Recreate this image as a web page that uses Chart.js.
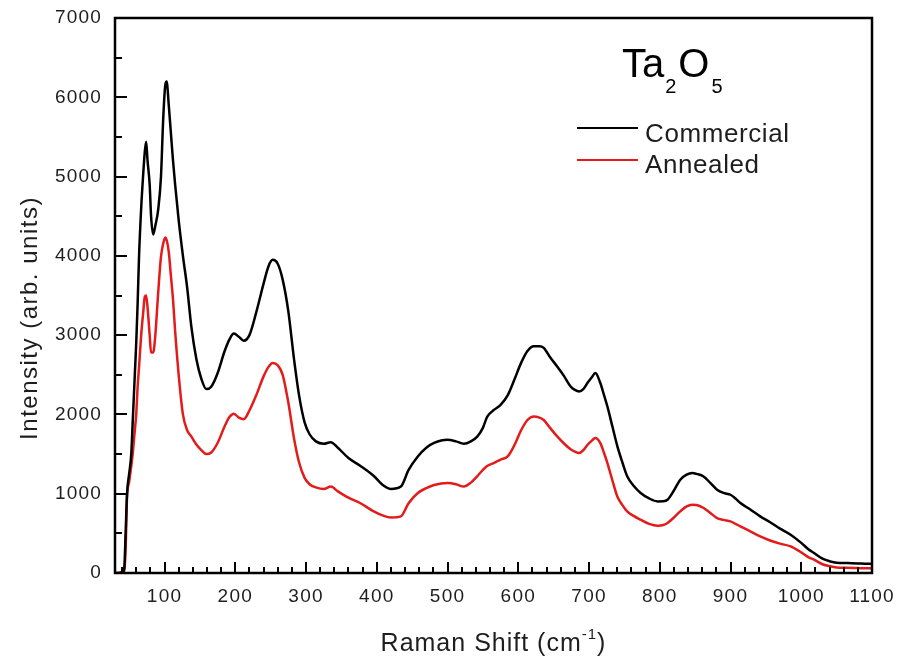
<!DOCTYPE html>
<html>
<head>
<meta charset="utf-8">
<script src="https://cdn.jsdelivr.net/npm/chart.js@4.4.1/dist/chart.umd.min.js"></script>
<style>
  html, body { margin: 0; padding: 0; background: #fff; }
  canvas { display: block; }
</style>
</head>
<body>
<canvas id="c" width="904" height="662"></canvas>
<script>
// ---- data ----
const ramanShift = [32, 36, 40, 43, 45, 47, 50, 53, 55, 58, 60, 62, 64, 67, 70, 72, 74, 76, 79, 81, 84, 87, 91, 95, 98, 101, 103, 106, 109, 112, 115, 120, 126, 132, 138, 145, 152, 159, 166, 175, 185, 192, 198, 205, 212, 220, 230, 240, 247, 253, 260, 267, 275, 283, 290, 298, 305, 314, 325, 335, 345, 360, 377, 395, 410, 420, 434, 445, 458, 470, 481, 500, 512, 523, 533, 542, 550, 556, 566, 575, 585, 595, 604, 613, 622, 630, 636, 645, 655, 665, 674, 680, 686, 692, 698, 704, 709, 716, 721, 726, 733, 740, 747, 754, 763, 773, 785, 797, 805, 811, 820, 829, 838, 846, 852, 862, 871, 881, 890, 900, 907, 914, 928, 942, 956, 970, 985, 1000, 1010, 1018, 1030, 1041, 1050, 1065, 1080, 1090, 1100];

const commercial = [0, 0, 10, 50, 500, 1000, 1250, 1500, 1900, 2500, 2900, 3400, 4000, 4600, 5050, 5300, 5440, 5200, 4900, 4500, 4270, 4380, 4580, 5000, 5700, 6150, 6200, 5900, 5550, 5200, 4900, 4450, 4000, 3600, 3100, 2700, 2450, 2320, 2350, 2520, 2800, 2950, 3020, 2980, 2930, 3000, 3300, 3650, 3870, 3950, 3900, 3700, 3300, 2700, 2250, 1900, 1750, 1660, 1630, 1650, 1580, 1450, 1350, 1230, 1100, 1060, 1090, 1300, 1470, 1580, 1640, 1680, 1660, 1630, 1660, 1720, 1830, 1970, 2060, 2120, 2240, 2450, 2650, 2800, 2860, 2860, 2840, 2720, 2605, 2480, 2353, 2310, 2290, 2320, 2400, 2470, 2522, 2396, 2250, 2100, 1850, 1600, 1400, 1220, 1100, 1010, 940, 903, 905, 924, 1040, 1177, 1240, 1261, 1250, 1218, 1140, 1051, 1010, 987, 940, 883, 800, 714, 640, 560, 483, 380, 300, 252, 180, 146, 130, 125, 120, 118, 115];

const annealed = [0, 0, 0, 30, 300, 950, 1150, 1350, 1500, 1800, 2000, 2350, 2600, 3000, 3300, 3480, 3500, 3350, 3000, 2780, 2780, 3000, 3530, 3990, 4150, 4230, 4200, 4050, 3750, 3450, 3050, 2500, 2000, 1800, 1720, 1620, 1550, 1500, 1520, 1640, 1850, 1970, 2010, 1960, 1940, 2050, 2250, 2480, 2600, 2650, 2620, 2500, 2150, 1700, 1400, 1200, 1120, 1080, 1060, 1090, 1030, 950, 880, 780, 720, 700, 714, 880, 1010, 1070, 1110, 1135, 1120, 1090, 1140, 1220, 1300, 1350, 1390, 1430, 1470, 1620, 1800, 1930, 1975, 1960, 1930, 1830, 1723, 1630, 1560, 1530, 1513, 1550, 1618, 1670, 1702, 1639, 1520, 1387, 1170, 966, 860, 777, 720, 672, 620, 597, 605, 631, 700, 777, 840, 861, 858, 820, 760, 693, 670, 651, 620, 588, 525, 462, 410, 370, 336, 260, 200, 168, 110, 84, 70, 65, 62, 60, 60];

const xTickLabels = [100, 200, 300, 400, 500, 600, 700, 800, 900, 1000, 1100];
const yTickLabels = [0, 1000, 2000, 3000, 4000, 5000, 6000, 7000];
const seriesNames = ['Commercial', 'Annealed'];
const titleMain = 'Ta', titleSub1 = '2', titleMain2 = 'O', titleSub2 = '5';
const xTitle = 'Raman Shift (cm', xTitleSup = '-1', xTitleEnd = ')';
const yTitle = 'Intensity (arb. units)';

// ---- styles ----
const FONT = '"Liberation Sans", Arial, Helvetica, sans-serif';
const BLACK = '#000000';
const RED = '#e31b1b';
const TEXT = '#1e1e1e';

const framePlugin = {
  id: 'frame',
  beforeDraw(chart) { chart.ctx.letterSpacing = '1.2px'; },
  afterDraw(chart) {
    const { ctx, chartArea: a, scales: { x, y } } = chart;
    ctx.save();
    ctx.letterSpacing = '0px';
    ctx.strokeStyle = '#000';
    ctx.lineWidth = 2;
    ctx.beginPath();
    for (let v = 40; v < 1100; v += 20) {
      const px = Math.round(x.getPixelForValue(v));
      const len = (v % 100 === 0) ? 11 : 6;
      ctx.moveTo(px, a.bottom);
      ctx.lineTo(px, a.bottom - len);
    }
    for (let v = 500; v < 7000; v += 500) {
      const py = Math.round(y.getPixelForValue(v));
      const len = (v % 1000 === 0) ? 12 : 7;
      ctx.moveTo(a.left, py);
      ctx.lineTo(a.left + len, py);
    }
    ctx.stroke();
    ctx.lineWidth = 2.5;
    ctx.strokeRect(a.left, a.top, a.right - a.left, a.bottom - a.top);

    // y title
    ctx.fillStyle = TEXT;
    ctx.save();
    ctx.translate(30, 318);
    ctx.rotate(-Math.PI / 2);
    ctx.font = '24px ' + FONT;
    ctx.letterSpacing = '1.5px';
    ctx.textAlign = 'center';
    ctx.textBaseline = 'middle';
    ctx.fillText(yTitle, 0, 0);
    ctx.restore();

    // x title with superscript
    ctx.textBaseline = 'alphabetic';
    ctx.textAlign = 'left';
    ctx.letterSpacing = '1px';
    ctx.font = '25px ' + FONT;
    const w1 = ctx.measureText(xTitle).width;
    const w3 = ctx.measureText(xTitleEnd).width;
    ctx.font = '15px ' + FONT;
    const w2 = ctx.measureText(xTitleSup).width;
    let sx = (a.left + a.right) / 2 - (w1 + w2 + w3) / 2;
    ctx.font = '25px ' + FONT;
    ctx.fillText(xTitle, sx, 651);
    ctx.font = '15px ' + FONT;
    ctx.fillText(xTitleSup, sx + w1, 639);
    ctx.font = '25px ' + FONT;
    ctx.fillText(xTitleEnd, sx + w1 + w2, 651);

    // Ta2O5
    ctx.letterSpacing = '0px';
    ctx.fillStyle = '#000';
    let tx = 622;
    ctx.font = '40px ' + FONT;
    ctx.fillText(titleMain, tx, 77); tx += ctx.measureText(titleMain).width + 1;
    ctx.font = '20px ' + FONT;
    ctx.fillText(titleSub1, tx, 93); tx += ctx.measureText(titleSub1).width + 2;
    ctx.font = '40px ' + FONT;
    ctx.fillText(titleMain2, tx, 77); tx += ctx.measureText(titleMain2).width + 2;
    ctx.font = '20px ' + FONT;
    ctx.fillText(titleSub2, tx, 93);

    // legend
    const items = [
      { name: seriesNames[0], color: BLACK, ly: 128, ty: 142 },
      { name: seriesNames[1], color: RED, ly: 160, ty: 173 }
    ];
    ctx.font = '26px ' + FONT;
    ctx.letterSpacing = '0.6px';
    for (const it of items) {
      ctx.strokeStyle = it.color;
      ctx.lineWidth = 2;
      ctx.beginPath();
      ctx.moveTo(577, it.ly);
      ctx.lineTo(638, it.ly);
      ctx.stroke();
      ctx.fillStyle = TEXT;
      ctx.fillText(it.name, 645, it.ty);
    }
    ctx.restore();
  }
};

const toPoints = arr => ramanShift.map((s, i) => ({ x: s, y: arr[i] }));

new Chart(document.getElementById('c'), {
  type: 'line',
  data: {
    datasets: [
      { label: seriesNames[0], data: toPoints(commercial), borderColor: BLACK, borderWidth: 2.5,
        pointRadius: 0, fill: false, cubicInterpolationMode: 'monotone' },
      { label: seriesNames[1], data: toPoints(annealed), borderColor: RED, borderWidth: 2.5,
        pointRadius: 0, fill: false, cubicInterpolationMode: 'monotone' }
    ]
  },
  options: {
    responsive: false,
    animation: false,
    events: [],
    layout: { padding: { top: 18, right: 32, left: 0, bottom: 0 } },
    plugins: { legend: { display: false }, tooltip: { enabled: false } },
    scales: {
      x: {
        type: 'linear', min: 30, max: 1100,
        afterBuildTicks: s => { s.ticks = xTickLabels.map(v => ({ value: v })); },
        afterFit: s => { s.height = 89; s.paddingLeft = 0; s.paddingRight = 0; },
        grid: { display: false, drawTicks: false },
        border: { display: false },
        ticks: { font: { family: FONT, size: 19 }, color: TEXT, padding: 12, maxRotation: 0, autoSkip: false,
                 callback: v => String(v) }
      },
      y: {
        type: 'linear', min: 0, max: 7000,
        afterBuildTicks: s => { s.ticks = yTickLabels.map(v => ({ value: v })); },
        afterFit: s => { s.width = 115; s.paddingTop = 0; s.paddingBottom = 0; },
        grid: { display: false, drawTicks: false },
        border: { display: false },
        ticks: { font: { family: FONT, size: 19 }, color: TEXT, padding: 13, autoSkip: false,
                 callback: v => String(v) }
      }
    }
  },
  plugins: [framePlugin]
});
</script>
</body>
</html>
